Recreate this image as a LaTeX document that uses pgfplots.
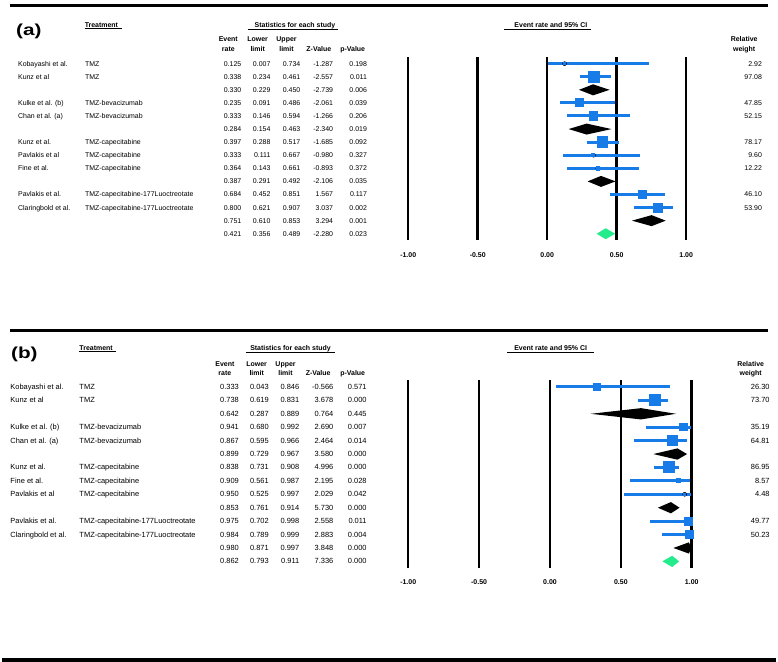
\documentclass[border=0pt]{standalone}
\usepackage{pgfplots}
\pgfplotsset{compat=1.18}
\usepackage{pgfplotstable}
\usepackage{fontspec}
\setmainfont{Liberation Sans}

\definecolor{ciblue}{RGB}{24,124,232}
\definecolor{sumgreen}{RGB}{36,236,140}

% study rows: row, event rate, lower, upper, half side of the box (pt)
\pgfplotstableread{
row er lo up s
1 0.125 0.007 0.734 0.7
2 0.338 0.234 0.461 5.4
4 0.235 0.091 0.486 4.1
5 0.333 0.146 0.594 4.2
7 0.397 0.288 0.517 5.3
8 0.333 0.111 0.667 1.5
9 0.364 0.143 0.661 1.7
11 0.684 0.452 0.851 4.1
12 0.800 0.621 0.907 4.5
}\studiesA

\pgfplotstableread{
row er lo up s
1 0.333 0.043 0.846 3.5
2 0.738 0.619 0.831 5.5
4 0.941 0.680 0.992 3.8
5 0.867 0.595 0.966 5.0
7 0.838 0.731 0.908 5.5
8 0.909 0.561 0.987 2.0
9 0.950 0.525 0.997 1.0
11 0.975 0.702 0.998 4.0
12 0.984 0.789 0.999 4.2
}\studiesB

\pgfplotsset{
  forest/.style={
    scale only axis, anchor=south west, clip=false,
    xmin=-1, xmax=1, ymin=0.5, ymax=14.5, y dir=reverse,
    axis line style={draw=none}, ytick=\empty,
    xtick={-1,-0.5,0,0.5,1}, xticklabels={-1.00,-0.50,0.00,0.50,1.00},
    major tick length=0pt, xmajorgrids,
    grid style={black, line width=2.6pt},
    xticklabel style={font=\bfseries\fontsize{7}{8}\selectfont},
  },
  cibars/.style={only marks, mark=none,
    error bars/x dir=both, error bars/x explicit, error bars/error mark=none,
    error bars/error bar style={draw=ciblue, line width=3pt}},
  boxes/.style={scatter, only marks, mark=square*,
    scatter/use mapped color={draw=ciblue, fill=ciblue},
    mark options={line width=0pt},
    visualization depends on={\thisrow{s} \as \ms},
    scatter/@pre marker code/.append style={/tikz/mark size=\ms}},
}

\begin{document}
\begin{tikzpicture}
\path (0pt,0pt) rectangle (778pt,-665pt);

% ---- panel (a)
\begin{axis}[forest, at={(408.3pt,-241.5pt)}, width=279.4pt, height=184.1pt,
  xticklabel style={yshift=-9pt}]
\addplot[cibars] table[x=er, y=row,
  x error plus expr=\thisrow{up}-\thisrow{er},
  x error minus expr=\thisrow{er}-\thisrow{lo}] {\studiesA};
\addplot[boxes] table[x=er, y=row] {\studiesA};
\addplot[fill=black, draw=none] coordinates {(0.229,3) (0.330,2.58) (0.450,3) (0.330,3.42)} --cycle;
\addplot[fill=black, draw=none] coordinates {(0.154,6) (0.284,5.58) (0.463,6) (0.284,6.42)} --cycle;
\addplot[fill=black, draw=none] coordinates {(0.291,10) (0.387,9.58) (0.492,10) (0.387,10.42)} --cycle;
\addplot[fill=black, draw=none] coordinates {(0.610,13) (0.751,12.58) (0.853,13) (0.751,13.42)} --cycle;
\addplot[fill=sumgreen, draw=none] coordinates {(0.356,14) (0.421,13.58) (0.489,14) (0.421,14.42)} --cycle;
\end{axis}

% ---- panel (b)
\begin{axis}[forest, at={(408.3pt,-571pt)}, width=285pt, height=188.8pt,
  xticklabel style={yshift=-8.5pt}]
\addplot[cibars] table[x=er, y=row,
  x error plus expr=\thisrow{up}-\thisrow{er},
  x error minus expr=\thisrow{er}-\thisrow{lo}] {\studiesB};
\addplot[boxes] table[x=er, y=row] {\studiesB};
\addplot[fill=black, draw=none] coordinates {(0.287,3) (0.642,2.58) (0.889,3) (0.642,3.42)} --cycle;
\addplot[fill=black, draw=none] coordinates {(0.729,6) (0.899,5.58) (0.967,6) (0.899,6.42)} --cycle;
\addplot[fill=black, draw=none] coordinates {(0.761,10) (0.853,9.58) (0.914,10) (0.853,10.42)} --cycle;
\addplot[fill=black, draw=none] coordinates {(0.871,13) (0.980,12.58) (0.997,13) (0.980,13.42)} --cycle;
\addplot[fill=sumgreen, draw=none] coordinates {(0.793,14) (0.862,13.58) (0.911,14) (0.862,14.42)} --cycle;
\end{axis}

\begin{scope}[x=1pt, y=-1pt,
  cell/.style={inner sep=0pt, text height=5pt, text depth=0pt},
  hd/.style={cell, font=\bfseries\fontsize{7}{8}\selectfont}]
% rules
\draw[line width=3pt] (8,6) -- (770,6);
\draw[line width=3pt] (8,332) -- (770,332);
\draw[line width=4pt] (0,663) -- (778,663);

% ---- headers (a)
\node[font=\bfseries\fontsize{16}{16}\selectfont, xscale=1.3, inner sep=0pt, anchor=base] at (27,36) {(a)};
\node[hd, anchor=west] at (83,25) {Treatment};
\draw[line width=0.7pt] (83,28.5) -- (121,28.5);
\node[hd] at (294.5,25) {Statistics for each study};
\draw[line width=0.7pt] (247,29) -- (338,29);
\node[hd] at (551.7,25) {Event rate and 95\% CI};
\draw[line width=0.7pt] (505,29.3) -- (592,29.3);
\node[hd] at (227.5,39.5) {Event};  \node[hd] at (227.5,49) {rate};
\node[hd] at (257,39.5) {Lower};    \node[hd] at (257,49) {limit};
\node[hd] at (286,39.5) {Upper};    \node[hd] at (286,49) {limit};
\node[hd] at (318.5,49) {Z-Value};
\node[hd] at (352.5,49) {p-Value};
\node[hd] at (746,39.5) {Relative}; \node[hd] at (746,49) {weight};

\begin{scope}[every node/.append style={cell, font=\fontsize{7}{8}\selectfont}]
\foreach \i/\n/\t/\er/\lo/\up/\z/\p/\w in {
  1/Kobayashi et al./TMZ/0.125/0.007/0.734/-1.287/0.198/2.92,
  2/Kunz et al/TMZ/0.338/0.234/0.461/-2.557/0.011/97.08,
  3/{}/{}/0.330/0.229/0.450/-2.739/0.006/{},
  4/Kulke et al. (b)/TMZ-bevacizumab/0.235/0.091/0.486/-2.061/0.039/47.85,
  5/Chan et al. (a)/TMZ-bevacizumab/0.333/0.146/0.594/-1.266/0.206/52.15,
  6/{}/{}/0.284/0.154/0.463/-2.340/0.019/{},
  7/Kunz et al./TMZ-capecitabine/0.397/0.288/0.517/-1.685/0.092/78.17,
  8/Pavlakis et al/TMZ-capecitabine/0.333/0.111/0.667/-0.980/0.327/9.60,
  9/Fine et al./TMZ-capecitabine/0.364/0.143/0.661/-0.893/0.372/12.22,
  10/{}/{}/0.387/0.291/0.492/-2.106/0.035/{},
  11/Pavlakis et al./TMZ-capecitabine-177Luoctreotate/0.684/0.452/0.851/1.567/0.117/46.10,
  12/Claringbold et al./TMZ-capecitabine-177Luoctreotate/0.800/0.621/0.907/3.037/0.002/53.90,
  13/{}/{}/0.751/0.610/0.853/3.294/0.001/{},
  14/{}/{}/0.421/0.356/0.489/-2.280/0.023/{}}{
  \pgfmathsetmacro\yy{64+(\i-1)*13.15}
  \node[anchor=west] at (16,\yy) {\n};
  \node[anchor=west] at (83.3,\yy) {\t};
  \node[anchor=east] at (240.7,\yy) {\er};
  \node[anchor=east] at (270,\yy) {\lo};
  \node[anchor=east] at (300,\yy) {\up};
  \node[anchor=east] at (333,\yy) {\z};
  \node[anchor=east] at (367,\yy) {\p};
  \node[anchor=east] at (764,\yy) {\w};
}
\end{scope}

% ---- headers (b)
\node[font=\bfseries\fontsize{16}{16}\selectfont, xscale=1.3, inner sep=0pt, anchor=base] at (22.5,360) {(b)};
\node[hd, anchor=west] at (77.7,350) {Treatment};
\draw[line width=0.7pt] (77.7,353.5) -- (115,353.5);
\node[hd] at (290,350) {Statistics for each study};
\draw[line width=0.7pt] (245,354) -- (335,354);
\node[hd] at (551.5,350) {Event rate and 95\% CI};
\draw[line width=0.7pt] (508,354) -- (595,354);
\node[hd] at (224,365.5) {Event};   \node[hd] at (224,375) {rate};
\node[hd] at (256,365.5) {Lower};   \node[hd] at (256,375) {limit};
\node[hd] at (285,365.5) {Upper};   \node[hd] at (285,375) {limit};
\node[hd] at (317.8,375) {Z-Value};
\node[hd] at (352.5,375) {p-Value};
\node[hd] at (752.5,365.5) {Relative}; \node[hd] at (752.5,375) {weight};

\begin{scope}[every node/.append style={cell, font=\fontsize{7.5}{8.5}\selectfont}]
\foreach \i/\n/\t/\er/\lo/\up/\z/\p/\w in {
  1/Kobayashi et al./TMZ/0.333/0.043/0.846/-0.566/0.571/26.30,
  2/Kunz et al/TMZ/0.738/0.619/0.831/3.678/0.000/73.70,
  3/{}/{}/0.642/0.287/0.889/0.764/0.445/{},
  4/Kulke et al. (b)/TMZ-bevacizumab/0.941/0.680/0.992/2.690/0.007/35.19,
  5/Chan et al. (a)/TMZ-bevacizumab/0.867/0.595/0.966/2.464/0.014/64.81,
  6/{}/{}/0.899/0.729/0.967/3.580/0.000/{},
  7/Kunz et al./TMZ-capecitabine/0.838/0.731/0.908/4.996/0.000/86.95,
  8/Fine et al./TMZ-capecitabine/0.909/0.561/0.987/2.195/0.028/8.57,
  9/Pavlakis et al/TMZ-capecitabine/0.950/0.525/0.997/2.029/0.042/4.48,
  10/{}/{}/0.853/0.761/0.914/5.730/0.000/{},
  11/Pavlakis et al./TMZ-capecitabine-177Luoctreotate/0.975/0.702/0.998/2.558/0.011/49.77,
  12/Claringbold et al./TMZ-capecitabine-177Luoctreotate/0.984/0.789/0.999/2.883/0.004/50.23,
  13/{}/{}/0.980/0.871/0.997/3.848/0.000/{},
  14/{}/{}/0.862/0.793/0.911/7.336/0.000/{}}{
  \pgfmathsetmacro\yy{389+(\i-1)*13.48}
  \node[anchor=west] at (8.3,\yy) {\n};
  \node[anchor=west] at (77.7,\yy) {\t};
  \node[anchor=east] at (238.3,\yy) {\er};
  \node[anchor=east] at (268.3,\yy) {\lo};
  \node[anchor=east] at (299,\yy) {\up};
  \node[anchor=east] at (333.3,\yy) {\z};
  \node[anchor=east] at (366.7,\yy) {\p};
  \node[anchor=east] at (771.7,\yy) {\w};
}
\end{scope}
\end{scope}
\end{tikzpicture}
\end{document}
